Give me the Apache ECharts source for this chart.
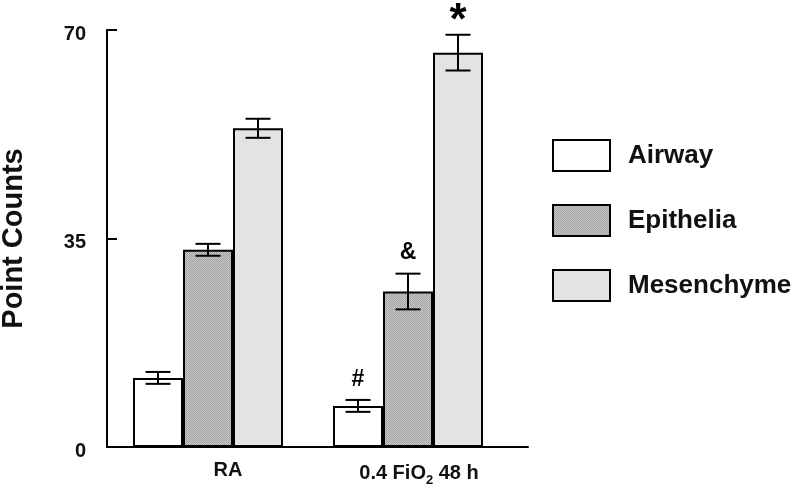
<!DOCTYPE html>
<html>
<head>
<meta charset="utf-8">
<script src="https://cdn.jsdelivr.net/npm/echarts@6/dist/echarts.min.js"></script>
<style>
  html, body { margin: 0; padding: 0; background: #fff; }
  #chart { width: 792px; height: 486px; }
</style>
</head>
<body>
<div id="chart"></div>
<script>
// 数据
var categories = ['RA', '0.4 FiO2 48 h'];
var seriesNames = ['Airway', 'Epithelia', 'Mesenchyme'];
var airway = [11.6, 6.9];
var epithelia = [33.1, 26.1];
var mesenchyme = [53.5, 66.2];
var airwayErr = [1.0, 1.0];
var epitheliaErr = [1.0, 3.0];
var mesenchymeErr = [1.6, 3.0];
var airwayMark = ['', '#'];
var epitheliaMark = ['', '&'];
var mesenchymeMark = ['', '*'];
var yTicks = [0, 35, 70];

var FONT = '"Liberation Sans", Arial, sans-serif';

// stippled grey for Epithelia
var pat = document.createElement('canvas');
pat.width = 2; pat.height = 2;
var pctx = pat.getContext('2d');
pctx.fillStyle = '#c8c8c8'; pctx.fillRect(0, 0, 2, 2);
pctx.fillStyle = '#a2a2a2'; pctx.fillRect(0, 0, 1, 1); pctx.fillRect(1, 1, 1, 1);

var fills = ['#ffffff', { image: pat, repeat: 'repeat' }, '#e3e3e3'];
var values = [airway, epithelia, mesenchyme];
var errs = [airwayErr, epitheliaErr, mesenchymeErr];
var marks = [airwayMark, epitheliaMark, mesenchymeMark];
var offsets = [-50, 0, 50];

var myChart = echarts.init(document.getElementById('chart'));

var series = [];
seriesNames.forEach(function (name, i) {
    series.push({
        name: name,
        type: 'bar',
        barWidth: 50,
        barGap: '0%',
        data: values[i].map(function (v, k) { return [k, v]; }),
        itemStyle: { color: fills[i], borderColor: '#000', borderWidth: 2 },
        z: 2
    });
});

// 误差线 + 标记
seriesNames.forEach(function (name, i) {
    series.push({
        type: 'custom',
        data: values[i].map(function (v, k) { return [k, v, errs[i][k], marks[i][k]]; }),
        encode: { x: 0, y: 1 },
        z: 5,
        silent: true,
        renderItem: function (params, api) {
            var x = api.value(0), v = api.value(1), e = api.value(2);
            var top = api.coord([x, v + e]);
            var bot = api.coord([x, v - e]);
            var cx = top[0] + offsets[i];
            var half = 12.5;
            var ls = { stroke: '#000', lineWidth: 2 };
            var mark = marks[i][params.dataIndex];
            var children = [
                { type: 'line', shape: { x1: cx, y1: top[1], x2: cx, y2: bot[1] }, style: ls },
                { type: 'line', shape: { x1: cx - half, y1: top[1], x2: cx + half, y2: top[1] }, style: ls },
                { type: 'line', shape: { x1: cx - half, y1: bot[1], x2: cx + half, y2: bot[1] }, style: ls }
            ];
            if (mark) {
                var big = mark === '*';
                children.push({
                    type: 'text',
                    style: {
                        text: mark,
                        x: cx,
                        y: top[1] - (big ? -9 : 9),
                        align: 'center',
                        verticalAlign: 'bottom',
                        font: 'bold ' + (big ? 44 : 23) + 'px ' + FONT,
                        fill: '#000'
                    }
                });
            }
            return { type: 'group', children: children };
        }
    });
});

var option = {
    animation: false,
    backgroundColor: '#fff',
    textStyle: { fontFamily: FONT },
    grid: { left: 107, right: 264, top: 30, bottom: 39, containLabel: false, outerBoundsMode: 'none' },
    legend: {
        data: seriesNames,
        orient: 'vertical',
        left: 552,
        top: 139,
        padding: 0,
        itemWidth: 57,
        itemHeight: 31,
        itemGap: 32,
        icon: 'rect',
        textStyle: { fontSize: 26, lineHeight: 31, fontWeight: 'bold', color: '#111', padding: [0, 0, 0, 13] },
        selectedMode: false
    },
    xAxis: {
        type: 'value',
        min: -0.505,
        max: 1.6,
        splitLine: { show: false },
        axisLine: { show: true, onZero: false, lineStyle: { color: '#000', width: 2 } },
        axisTick: { show: false },
        axisLabel: {
            customValues: [0.1, 1.055],
            margin: 13,
            formatter: function (val) {
                return val < 0.5 ? '{t|RA}' : '{t|0.4 FiO}{s|2}{t| 48 h}';
            },
            rich: {
                t: { fontSize: 20, fontWeight: 'bold', color: '#111', fontFamily: FONT },
                s: { fontSize: 13, fontWeight: 'bold', color: '#111', fontFamily: FONT, padding: [14, 0, 0, 0] }
            }
        }
    },
    yAxis: {
        type: 'value',
        position: 'left',
        min: 0,
        max: 70,
        interval: 35,
        name: 'Point Counts',
        nameLocation: 'middle',
        nameGap: 79,
        nameTextStyle: { fontSize: 29, fontWeight: 'bold', color: '#111', fontFamily: FONT },
        splitLine: { show: false },
        axisLine: { show: true, onZero: false, lineStyle: { color: '#000', width: 2 } },
        axisTick: { show: true, inside: true, length: 10, lineStyle: { color: '#000', width: 2 } },
        axisLabel: {
            margin: 21,
            fontSize: 20,
            fontWeight: 'bold',
            color: '#111',
            verticalAlign: 'top',
            padding: [-6, 0, 0, 0],
            customValues: yTicks
        }
    },
    series: series
};

myChart.setOption(option);
</script>
</body>
</html>
